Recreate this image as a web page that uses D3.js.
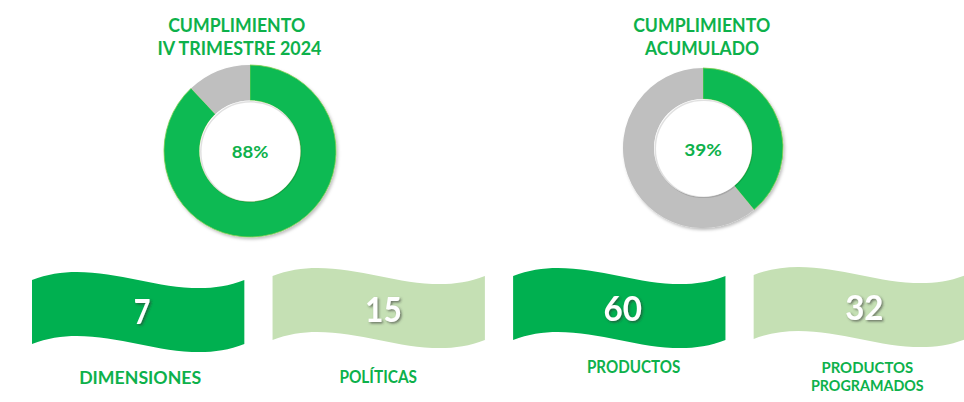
<!DOCTYPE html>
<html><head><meta charset="utf-8">
<script src="https://cdn.jsdelivr.net/npm/d3@7"></script>
<style>
html,body{margin:0;padding:0;background:#fff;}
svg{display:block;}
text{font-family:Lato,"Open Sans","Liberation Sans",sans-serif;font-weight:700;}
</style></head>
<body><svg id="chart" width="964" height="402"></svg>
<script>
// ---- data ----
const donutTitles = [["CUMPLIMIENTO", "IV TRIMESTRE 2024"], ["CUMPLIMIENTO", "ACUMULADO"]];
const donutValues = [88, 39];           // percent achieved
const kpiValues = [7, 15, 60, 32];
const kpiLabels = [["DIMENSIONES"], ["POLÍTICAS"], ["PRODUCTOS"], ["PRODUCTOS", "PROGRAMADOS"]];

// ---- layout (positions / styles) ----
const W = 964, H = 402;
const GREEN = "#0bba52", GRAY = "#bfbfbf", TEXT_GREEN = "#0db14b";
const BANNER_DARK = "#00b050", BANNER_LIGHT = "#c5e0b4";
const donutLayout = [
  {cx: 250, cy: 151, ro: 86, ri: 50.5, titleX: [236.7, 239.5], titleW: [137, 164], pctW: 36.7, pctY: 158.3},
  {cx: 703, cy: 148, ro: 80, ri: 49, titleX: [701.7, 702], titleW: [137, 114], pctW: 37.7, pctY: 156}
];
const titleBaselines = [31.7, 55];
const bannerTops = [280, 276, 276, 275];
const bannerFills = [BANNER_DARK, BANNER_LIGHT, BANNER_DARK, BANNER_LIGHT];
const numLayout = [
  {dx: 4, y: 323.7, w: 16.7}, {dx: 4.7, y: 321.7, w: 36.7}, {dx: 3.5, y: 320.7, w: 38.4}, {dx: 4.5, y: 320.3, w: 38.3}
];
const labelLayout = [
  {dx: 2, y: [384], w: [122], fs: 16.5},
  {dx: -0.5, y: [382.7], w: [77.6], fs: 16.5},
  {dx: 14.3, y: [373.3], w: [93.3], fs: 16.5},
  {dx: 7.5, y: [372.6, 391.3], w: [91.7, 112.7], fs: 15.3}
];

const svg = d3.select("#chart");
const defs = svg.append("defs");
const sh = defs.append("filter").attr("id", "numShadow").attr("x", "-30%").attr("y", "-30%").attr("width", "160%").attr("height", "160%");
sh.append("feDropShadow").attr("dx", 1.5).attr("dy", 1.5).attr("stdDeviation", 1).attr("flood-color", "#333").attr("flood-opacity", 0.6);
const dsh = defs.append("filter").attr("id", "donutShadow").attr("x", "-20%").attr("y", "-20%").attr("width", "140%").attr("height", "140%");
dsh.append("feDropShadow").attr("dx", 1.5).attr("dy", 2).attr("stdDeviation", 1.5).attr("flood-color", "#000").attr("flood-opacity", 0.25);

// ---- donuts ----
const pie = d3.pie().sort(null).value(d => d);
donutValues.forEach((v, i) => {
  const L = donutLayout[i];
  const g = svg.append("g").attr("transform", `translate(${L.cx},${L.cy})`);
  const arc = d3.arc().innerRadius(L.ri).outerRadius(L.ro);
  g.append("g").attr("filter", "url(#donutShadow)")
    .selectAll("path").data(pie([v, 100 - v])).join("path")
    .attr("d", arc)
    .attr("fill", (d, j) => j === 0 ? GREEN : GRAY)
    .attr("stroke", (d, j) => j === 0 ? "#7fcf4f" : "none")
    .attr("stroke-width", 0.8);
  // inner rim shadow
  g.append("circle").attr("r", L.ri).attr("fill", "#fff");
  g.append("circle").attr("r", L.ri - 0.5).attr("fill", "none")
    .attr("stroke", "rgba(0,0,0,0.12)").attr("stroke-width", 1.5)
    .attr("transform", "translate(0.8,0.8)");
  g.append("text").attr("x", 0).attr("y", L.pctY - L.cy)
    .attr("text-anchor", "middle").attr("font-size", 17.5).attr("fill", TEXT_GREEN)
    .attr("textLength", L.pctW).attr("lengthAdjust", "spacingAndGlyphs")
    .text(v + "%");
  donutTitles[i].forEach((t, k) => {
    svg.append("text").attr("x", L.titleX[k]).attr("y", titleBaselines[k])
      .attr("text-anchor", "middle").attr("font-size", 18.5).attr("fill", TEXT_GREEN)
      .attr("textLength", L.titleW[k]).attr("lengthAdjust", "spacingAndGlyphs")
      .text(t);
  });
});

// ---- banners ----
const x = d3.scaleBand().domain(d3.range(kpiValues.length)).range([32, 966]).paddingInner(0.1173);
const bw = x.bandwidth(), bh = 64, k = 28;
function wave(x0, y0) {
  const p = d3.path();
  const y1 = y0 + bh;
  p.moveTo(x0, y0);
  p.bezierCurveTo(x0 + bw / 3, y0 - k, x0 + 2 * bw / 3, y0 + k, x0 + bw, y0);
  p.lineTo(x0 + bw, y1);
  p.bezierCurveTo(x0 + 2 * bw / 3, y1 + k, x0 + bw / 3, y1 - k, x0, y1);
  p.closePath();
  return p.toString();
}
const banners = svg.selectAll("g.banner").data(kpiValues).join("g").attr("class", "banner");
banners.append("path")
  .attr("d", (d, i) => wave(x(i), bannerTops[i]))
  .attr("fill", (d, i) => bannerFills[i]);
banners.append("text")
  .attr("x", (d, i) => x(i) + bw / 2 + numLayout[i].dx)
  .attr("y", (d, i) => numLayout[i].y)
  .attr("text-anchor", "middle").attr("font-size", 35).attr("fill", "#fff")
  .attr("filter", "url(#numShadow)")
  .attr("textLength", (d, i) => numLayout[i].w).attr("lengthAdjust", "spacingAndGlyphs")
  .text(d => d);
banners.each(function (d, i) {
  const L = labelLayout[i];
  kpiLabels[i].forEach((t, j) => {
    d3.select(this).append("text")
      .attr("x", x(i) + bw / 2 + L.dx).attr("y", L.y[j])
      .attr("text-anchor", "middle").attr("font-size", L.fs).attr("fill", TEXT_GREEN)
      .attr("textLength", L.w[j]).attr("lengthAdjust", "spacingAndGlyphs")
      .text(t);
  });
});
</script></body></html>
